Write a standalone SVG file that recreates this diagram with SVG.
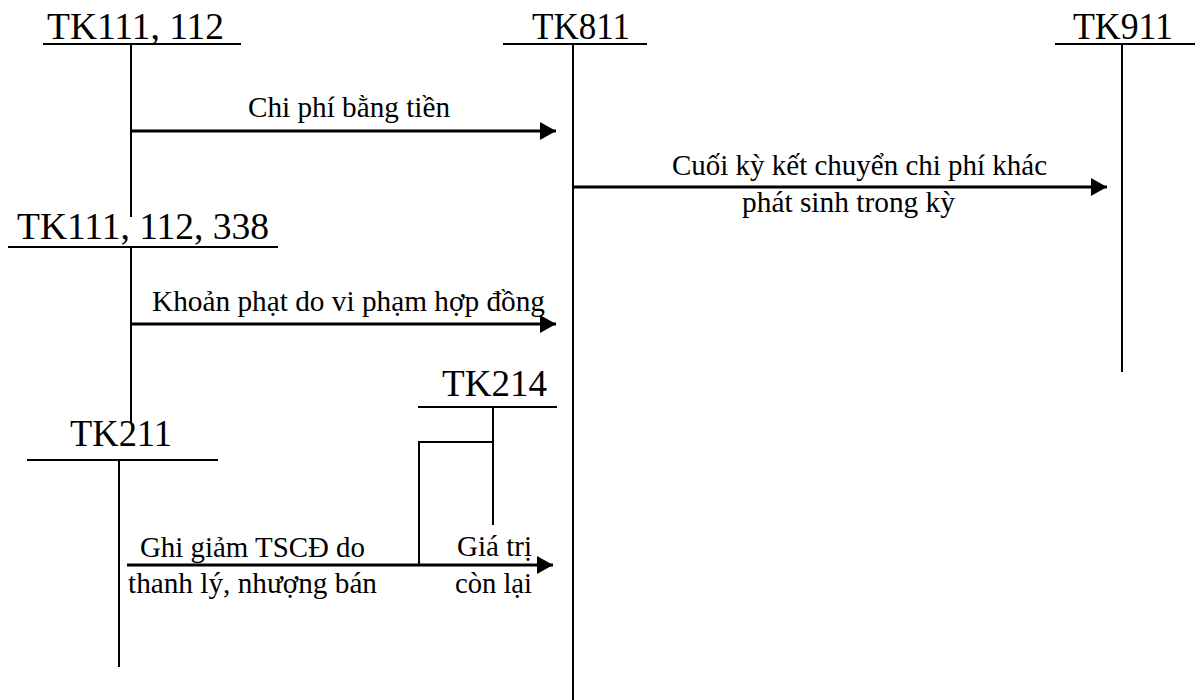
<svg xmlns="http://www.w3.org/2000/svg" width="1195" height="700" viewBox="0 0 1195 700">
  <style>
    .acct { font-family: "Liberation Serif", "Times New Roman", serif; font-size: 37px; fill: #000; }
    .lbl { font-family: "Liberation Serif", "Times New Roman", serif; font-size: 29.5px; fill: #000; }
    .ln { stroke: #000; stroke-width: 2; fill: none; }
    .arr { stroke: #000; stroke-width: 3; fill: none; marker-end: url(#ah); }
  </style>
  <defs>
    <marker id="ah" markerUnits="userSpaceOnUse" markerWidth="17" markerHeight="18" refX="16" refY="9" orient="auto">
      <path d="M0,0 L16,9 L0,18 Z" fill="#000"/>
    </marker>
  </defs>
  <rect width="1195" height="700" fill="#fff"/>

  <g id="tk111_112">
    <text class="acct" x="47" y="39" textLength="177" lengthAdjust="spacingAndGlyphs">TK111, 112</text>
    <line class="ln" x1="43" y1="44" x2="241" y2="44"/>
    <line class="ln" x1="131" y1="44" x2="131" y2="217"/>
  </g>

  <g id="tk811">
    <text class="acct" x="532" y="39" textLength="98" lengthAdjust="spacingAndGlyphs">TK811</text>
    <line class="ln" x1="503" y1="44" x2="647" y2="44"/>
    <line class="ln" x1="573" y1="44" x2="573" y2="700"/>
  </g>

  <g id="tk911">
    <text class="acct" x="1073" y="39" textLength="100" lengthAdjust="spacingAndGlyphs">TK911</text>
    <line class="ln" x1="1055" y1="44" x2="1195" y2="44"/>
    <line class="ln" x1="1122" y1="44" x2="1122" y2="372"/>
  </g>

  <g id="tk111_112_338">
    <text class="acct" x="17" y="239" textLength="252" lengthAdjust="spacingAndGlyphs">TK111, 112, 338</text>
    <line class="ln" x1="8" y1="247" x2="278" y2="247"/>
    <line class="ln" x1="131" y1="247" x2="131" y2="422"/>
  </g>

  <g id="tk214">
    <text class="acct" x="442" y="396" textLength="105" lengthAdjust="spacingAndGlyphs">TK214</text>
    <line class="ln" x1="418" y1="407" x2="557" y2="407"/>
    <line class="ln" x1="493" y1="407" x2="493" y2="525"/>
  </g>

  <g id="tk211">
    <text class="acct" x="70" y="446" textLength="102" lengthAdjust="spacingAndGlyphs">TK211</text>
    <line class="ln" x1="27" y1="460" x2="218" y2="460"/>
    <line class="ln" x1="119" y1="460" x2="119" y2="667"/>
  </g>

  <g id="connectors">
    <line class="arr" x1="131" y1="131" x2="556" y2="131"/>
    <text class="lbl" x="248" y="117" textLength="202" lengthAdjust="spacingAndGlyphs">Chi phí bằng tiền</text>

    <line class="arr" x1="573" y1="187" x2="1107" y2="187"/>
    <text class="lbl" x="672" y="175" textLength="375" lengthAdjust="spacingAndGlyphs">Cuối kỳ kết chuyển chi phí khác</text>
    <text class="lbl" x="742" y="212" textLength="213" lengthAdjust="spacingAndGlyphs">phát sinh trong kỳ</text>

    <line class="arr" x1="131" y1="324" x2="556" y2="324"/>
    <text class="lbl" x="152" y="311" textLength="393" lengthAdjust="spacingAndGlyphs">Khoản phạt do vi phạm hợp đồng</text>

    <polyline class="ln" points="493,442 419,442 419,565"/>

    <line class="arr" x1="127" y1="565" x2="553" y2="565"/>
    <text class="lbl" x="140" y="557" textLength="225" lengthAdjust="spacingAndGlyphs">Ghi giảm TSCĐ do</text>
    <text class="lbl" x="128" y="593" textLength="249" lengthAdjust="spacingAndGlyphs">thanh lý, nhượng bán</text>
    <text class="lbl" x="457" y="556" textLength="75" lengthAdjust="spacingAndGlyphs">Giá trị</text>
    <text class="lbl" x="455" y="593" textLength="77" lengthAdjust="spacingAndGlyphs">còn lại</text>
  </g>
</svg>
